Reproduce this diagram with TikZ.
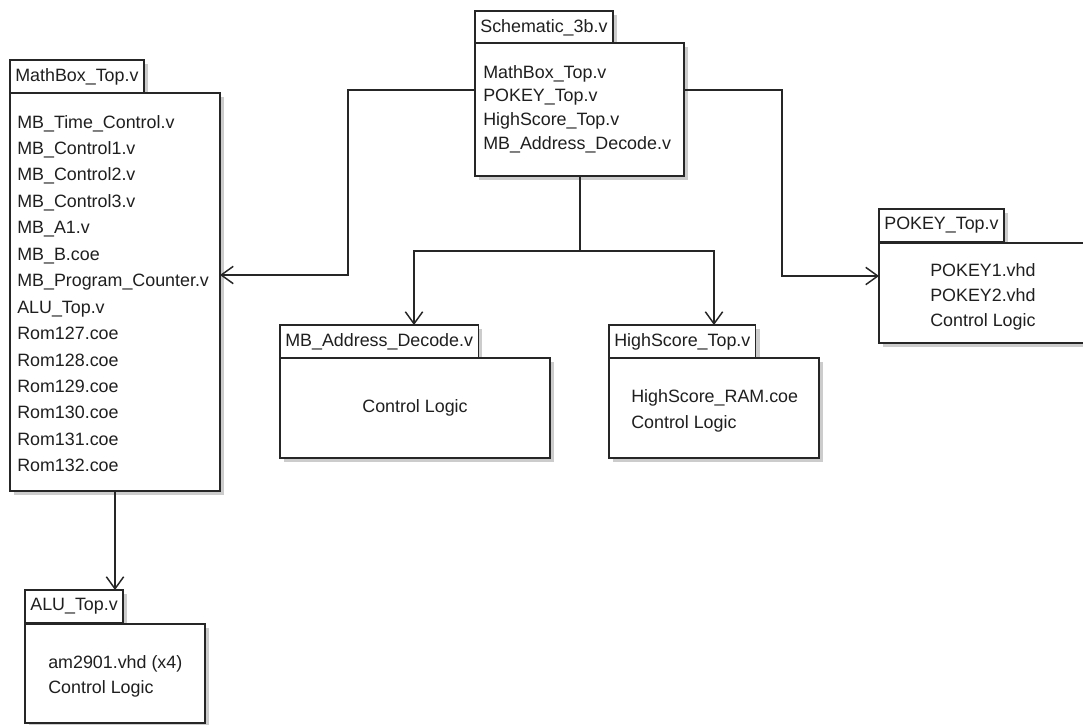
\documentclass[tikz,border=0pt]{standalone}
\usepackage{fontspec}
\setmainfont{Liberation Sans}
\usetikzlibrary{arrows.meta,shadows}
\begin{document}
\begin{tikzpicture}[x=0.75pt,y=-0.75pt,
  every node/.style={font=\fontsize{13.4}{16}\selectfont, text=black!88},
  pkgshadow/.style={drop shadow={shadow xshift=3pt,shadow yshift=-3pt,opacity=1,fill=black!20}},
  pkgtab/.style={draw=black!85,line width=1.1pt,fill=white,pkgshadow,anchor=north west,
    inner xsep=4pt,inner ysep=0pt,minimum height=24.75pt,outer sep=0pt},
  pkgbody/.style={draw=black!85,line width=1.1pt,fill=white,pkgshadow,anchor=north west,
    inner sep=0pt,outer sep=0pt},
  item/.style={anchor=base west,inner sep=0pt},
  conn/.style={draw=black!85,line width=1.1pt},
  dep/.style={conn,-{Straight Barb[length=9pt,width=13pt,line width=1.1pt]}}
]
\useasboundingbox (0,0) rectangle (1083,725);
\clip (0,0) rectangle (1083,725);
\fill[white] (0,0) rectangle (1083,725);

% Schematic_3b.v
\node[pkgtab] (schtab) at (475,11) {Schematic\_3b.v};
\node[pkgbody,minimum width={209*0.75pt},minimum height={133*0.75pt}] (sch) at (475,43) {};
\foreach \t [count=\i] in {MathBox\_Top.v, POKEY\_Top.v, HighScore\_Top.v, MB\_Address\_Decode.v}
  \node[item] (scht\i) at (483,{78+(\i-1)*23.8}) {\t};

% MathBox_Top.v
\node[pkgtab] (mbtab) at (10,60) {MathBox\_Top.v};
\node[pkgbody,minimum width={210*0.75pt},minimum height={398*0.75pt}] (mb) at (10,93) {};
\foreach \t [count=\i] in {MB\_Time\_Control.v, MB\_Control1.v, MB\_Control2.v, MB\_Control3.v,
    MB\_A1.v, MB\_B.coe, MB\_Program\_Counter.v, ALU\_Top.v, Rom127.coe, Rom128.coe,
    Rom129.coe, Rom130.coe, Rom131.coe, Rom132.coe}
  \node[item] (mbt\i) at (17,{128+(\i-1)*26.45}) {\t};

% MB_Address_Decode.v
\node[pkgtab] (madtab) at (280,325) {MB\_Address\_Decode.v};
\node[pkgbody,minimum width={270*0.75pt},minimum height={100*0.75pt}] (mad) at (280,358) {};
\node[inner sep=0pt] (madt1) at (mad.center) {Control Logic};

% HighScore_Top.v
\node[pkgtab] (hstab) at (609,325) {HighScore\_Top.v};
\node[pkgbody,minimum width={210*0.75pt},minimum height={100*0.75pt}] (hs) at (609,358) {};
\node[item] (hst1) at (631,402) {HighScore\_RAM.coe};
\node[item] (hst2) at (631,428) {Control Logic};

% POKEY_Top.v
\node[pkgtab] (pktab) at (879,209) {POKEY\_Top.v};
\node[pkgbody,minimum width={212*0.75pt},minimum height={100*0.75pt}] (pk) at (879,243) {};
\node[item] (pkt1) at (930,276) {POKEY1.vhd};
\node[item] (pkt2) at (930,301) {POKEY2.vhd};
\node[item] (pkt3) at (930,326) {Control Logic};

% ALU_Top.v
\node[pkgtab] (alutab) at (25,590) {ALU\_Top.v};
\node[pkgbody,minimum width={180*0.75pt},minimum height={99*0.75pt}] (alu) at (25,624) {};
\node[item] (alut1) at (48,668) {am2901.vhd (x4)};
\node[item] (alut2) at (48,693) {Control Logic};

% connectors
\coordinate (l1) at (348,90);
\coordinate (l2) at (348,275);
\draw[dep] (sch.west |- l1) -- (l1) -- (l2) -- (mb.east |- l2);

\coordinate (r1) at (782,90);
\coordinate (r2) at (782,276);
\draw[dep] (sch.east |- r1) -- (r1) -- (r2) -- (pk.west |- r2);

\coordinate (d0) at (580,251);
\coordinate (d1) at (414,251);
\coordinate (d2) at (714,251);
\draw[conn] (sch.south -| d0) -- (d0);
\draw[dep] (d0) -- (d1) -- (madtab.north -| d1);
\draw[dep] (d0) -- (d2) -- (hstab.north -| d2);

\coordinate (a0) at (115,540);
\draw[dep] (mb.south -| a0) -- (alutab.north -| a0);
\end{tikzpicture}
\end{document}
